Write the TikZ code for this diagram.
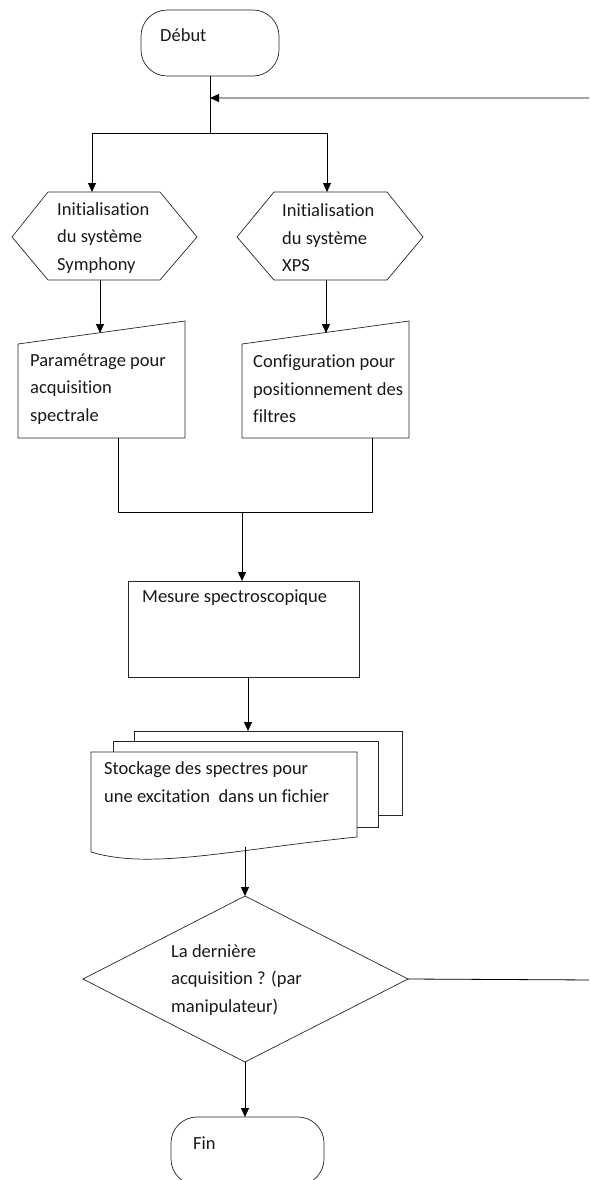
\documentclass[tikz,border=0pt]{standalone}
\usepackage{fontspec}
\setmainfont{Carlito}[Ligatures={NoCommon}]
\usetikzlibrary{arrows.meta}
\begin{document}
\begin{tikzpicture}[x=1pt,y=-1pt,
  shp/.style={draw=black!85, line width=0.7pt},
  conn/.style={draw=black, line width=0.8pt},
  arr/.style={conn, -{Triangle[length=9pt,width=8pt]}},
  txt/.style={anchor=west, inner sep=0pt, align=left, text=black!90, font=\fontsize{18.5}{27.5}\selectfont}]
\useasboundingbox (0,0) rectangle (589,1180);
\clip (0,0) rectangle (589,1180);

% Debut
\node[shp, rounded corners=26pt, minimum width=138pt, minimum height=66pt, inner sep=0pt] (debut) at (210,43) {};
\node[txt] (debutT) at (160,35) {Début};

\coordinate (merge) at (210,98);
\coordinate (split) at (210,133);
\coordinate (hexLin) at (92,192);
\coordinate (hexRin) at (327,192);

% hexagons
\draw[shp] (12,237) -- (48,192) -- (160,192) -- (197,237) -- (160,280) -- (48,280) -- cycle;
\draw[shp] (237,237) -- (274,192) -- (387,192) -- (423,237) -- (387,280) -- (274,280) -- cycle;
\coordinate (hexLout) at (100,280);
\coordinate (hexRout) at (326,280);
\node[txt] (hexLT) at (57,238) {Initialisation\\du système\\Symphony};
\node[txt] (hexRT) at (282,238) {Initialisation\\du système\\XPS};

% manual inputs
\draw[shp] (18,344) -- (185,321) -- (185,438) -- (18,438) -- cycle;
\draw[shp] (242,344) -- (409,321) -- (409,438) -- (242,438) -- cycle;
\coordinate (manLin) at (100,333);
\coordinate (manRin) at (326,333);
\coordinate (manLout) at (118,438);
\coordinate (manRout) at (372,438);
\node[txt] (manLT) at (30,389) {Paramétrage pour\\acquisition\\spectrale};
\node[txt] (manRT) at (253,389) {Configuration pour\\positionnement des\\filtres};

\coordinate (joinL) at (118,512);
\coordinate (joinR) at (372,512);
\coordinate (joinM) at (242,512);

% Mesure
\node[shp, minimum width=231pt, minimum height=96pt, inner sep=0pt] (mesure) at (243.5,629) {};
\node[txt] (mesureT) at (142,598) {Mesure spectroscopique};
\coordinate (mesIn) at (242,581);
\coordinate (mesOut) at (248,677);

% multi-document
\draw[shp, fill=white] (134,731) -- (402,731) -- (402,815) -- (378,815);
\draw[shp, fill=white] (113,741) -- (378,741) -- (378,827) -- (357,827);
\draw[shp, fill=white] (91,752) -- (357,752) -- (357,837) .. controls (230,850) and (150,870) .. (91,852) -- cycle;
\draw[shp] (134,731) -- (134,741);
\draw[shp] (113,741) -- (113,752);
\coordinate (docIn) at (248,731);
\coordinate (docOut) at (245,847);
\node[txt] (docT) at (104,782) {Stockage des spectres pour\\une excitation\ \ dans un fichier};

% decision
\draw[shp] (245,896) -- (408,979) -- (245,1062) -- (83,979) -- cycle;
\coordinate (decN) at (245,896);
\coordinate (decE) at (408,979);
\coordinate (decS) at (245,1062);
\node[txt] (decT) at (171,980) {La dernière\\acquisition ? (par\\manipulateur)};
\coordinate (loopA) at (596,980);
\coordinate (loopB) at (596,98);

% Fin
\node[shp, rounded corners=26pt, minimum width=153pt, minimum height=68pt, inner sep=0pt] (fin) at (247.5,1151) {};
\node[txt] (finT) at (193,1143) {Fin};
\coordinate (finIn) at (245,1117);

% connectors
\draw[conn] (debut.south) -- (split);
\draw[arr] (decE) -- (loopA) -- (loopB) -- (merge);
\draw[arr] (split) -| (hexLin);
\draw[arr] (split) -| (hexRin);
\draw[arr] (hexLout) -- (manLin);
\draw[arr] (hexRout) -- (manRin);
\draw[conn] (manLout) -- (joinL) -- (joinR) -- (manRout);
\draw[arr] (joinM) -- (mesIn);
\draw[arr] (mesOut) -- (docIn);
\draw[arr] (docOut) -- (decN);
\draw[arr] (decS) -- (finIn);
\end{tikzpicture}
\end{document}
